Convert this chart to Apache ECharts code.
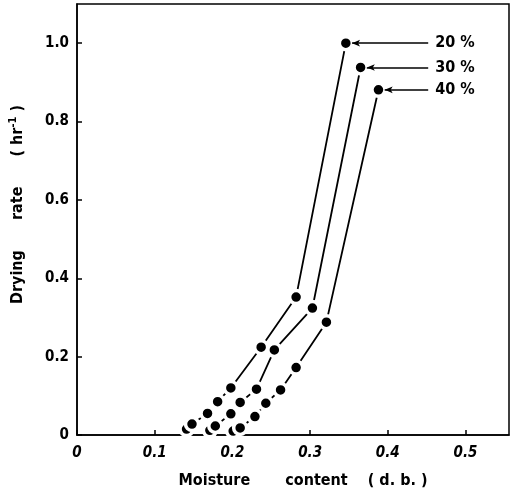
<!DOCTYPE html>
<html><head><meta charset="utf-8">
<script src="https://cdn.jsdelivr.net/npm/echarts@6/dist/echarts.min.js"></script>
<style>html,body{margin:0;padding:0;background:#fff}#c{width:510px;height:499px}</style>
</head><body><div id="c"></div>
<script>
// Data
const x20 = [0.141, 0.148, 0.168, 0.181, 0.198, 0.237, 0.282, 0.346];
const y20 = [0.015, 0.028, 0.055, 0.085, 0.120, 0.224, 0.352, 1.000];
const x30 = [0.171, 0.178, 0.198, 0.210, 0.231, 0.254, 0.303, 0.365];
const y30 = [0.012, 0.023, 0.054, 0.083, 0.117, 0.217, 0.324, 0.938];
const x40 = [0.201, 0.210, 0.229, 0.243, 0.262, 0.282, 0.321, 0.388];
const y40 = [0.010, 0.018, 0.047, 0.081, 0.115, 0.172, 0.288, 0.881];
const seriesNames = ['20 %', '30 %', '40 %'];
const xTicks = [0, 0.1, 0.2, 0.3, 0.4, 0.5];
const yTicks = [0, 0.2, 0.4, 0.6, 0.8, 1.0];
const labelEndX = 0.452;

const FONT = '"DejaVu Sans Condensed", "DejaVu Sans", sans-serif';
const chart = echarts.init(document.getElementById('c'));
function mk(name, xs, ys) {
  const n = xs.length;
  return {
    type: 'line', name: name,
    data: xs.map((x, i) => [x, ys[i]]),
    symbol: 'circle', symbolSize: 13,
    itemStyle: { color: '#000', borderColor: '#fff', borderWidth: 3.5 },
    lineStyle: { color: '#000', width: 1.8 },
    z: 3,
    markLine: {
      silent: true, animation: false,
      symbol: ['arrow', 'none'], symbolSize: [5, 8],
      lineStyle: { color: '#000', width: 1.6, type: 'solid' },
      label: { show: true, position: 'end', formatter: name, color: '#000',
               fontFamily: FONT, fontSize: 16, fontWeight: 'bold', distance: 7 },
      data: [[
        { coord: [xs[n - 1] + 0.008, ys[n - 1]] },
        { coord: [labelEndX, ys[n - 1]] }
      ]]
    }
  };
}
chart.setOption({
  animation: false,
  grid: { left: 75, right: 1, top: 4, bottom: 64, show: true, borderColor: '#000', borderWidth: 1.5 },
  xAxis: {
    type: 'value', min: 0, max: 0.556, interval: 0.1,
    axisLine: { show: true, lineStyle: { color: '#000', width: 1.5 } },
    axisTick: { show: true, inside: true, length: 5, lineStyle: { color: '#000', width: 1.5 } },
    splitLine: { show: false },
    axisLabel: { color: '#000', fontFamily: FONT, fontSize: 15, fontWeight: 'bold', fontStyle: 'italic', margin: 11,
      showMaxLabel: false,
      formatter: v => { const t = xTicks.find(k => Math.abs(k - v) < 1e-6); return t === undefined ? '' : (t === 0 ? '0' : t.toFixed(1)); } },
    name: 'Moisture       content    ( d. b. )', nameLocation: 'middle', nameGap: 38,
    nameTextStyle: { color: '#000', fontFamily: FONT, fontSize: 16, fontWeight: 'bold', padding: [0, 0, 0, 20] }
  },
  yAxis: {
    type: 'value', min: 0, max: 1.1, interval: 0.2,
    axisLine: { show: true, lineStyle: { color: '#000', width: 1.5 } },
    axisTick: { show: true, inside: true, length: 5, lineStyle: { color: '#000', width: 1.5 } },
    splitLine: { show: false },
    axisLabel: { color: '#000', fontFamily: FONT, fontSize: 15, fontWeight: 'bold', margin: 8,
      showMaxLabel: false,
      formatter: v => { const t = yTicks.find(k => Math.abs(k - v) < 1e-6); return t === undefined ? '' : (t === 0 ? '0' : t.toFixed(1)); } },
    name: 'Drying      rate      ( hr{sup|-1} )', nameLocation: 'middle', nameGap: 50, nameRotate: 90,
    nameTextStyle: { color: '#000', fontFamily: FONT, fontSize: 16, fontWeight: 'bold', padding: [0, 0, 0, 30],
      rich: { sup: { fontFamily: FONT, fontSize: 11, fontWeight: 'bold', verticalAlign: 'top', padding: [0, 0, 8, 0] } } }
  },
  series: [mk(seriesNames[0], x20, y20), mk(seriesNames[1], x30, y30), mk(seriesNames[2], x40, y40)]
});
</script></body></html>
